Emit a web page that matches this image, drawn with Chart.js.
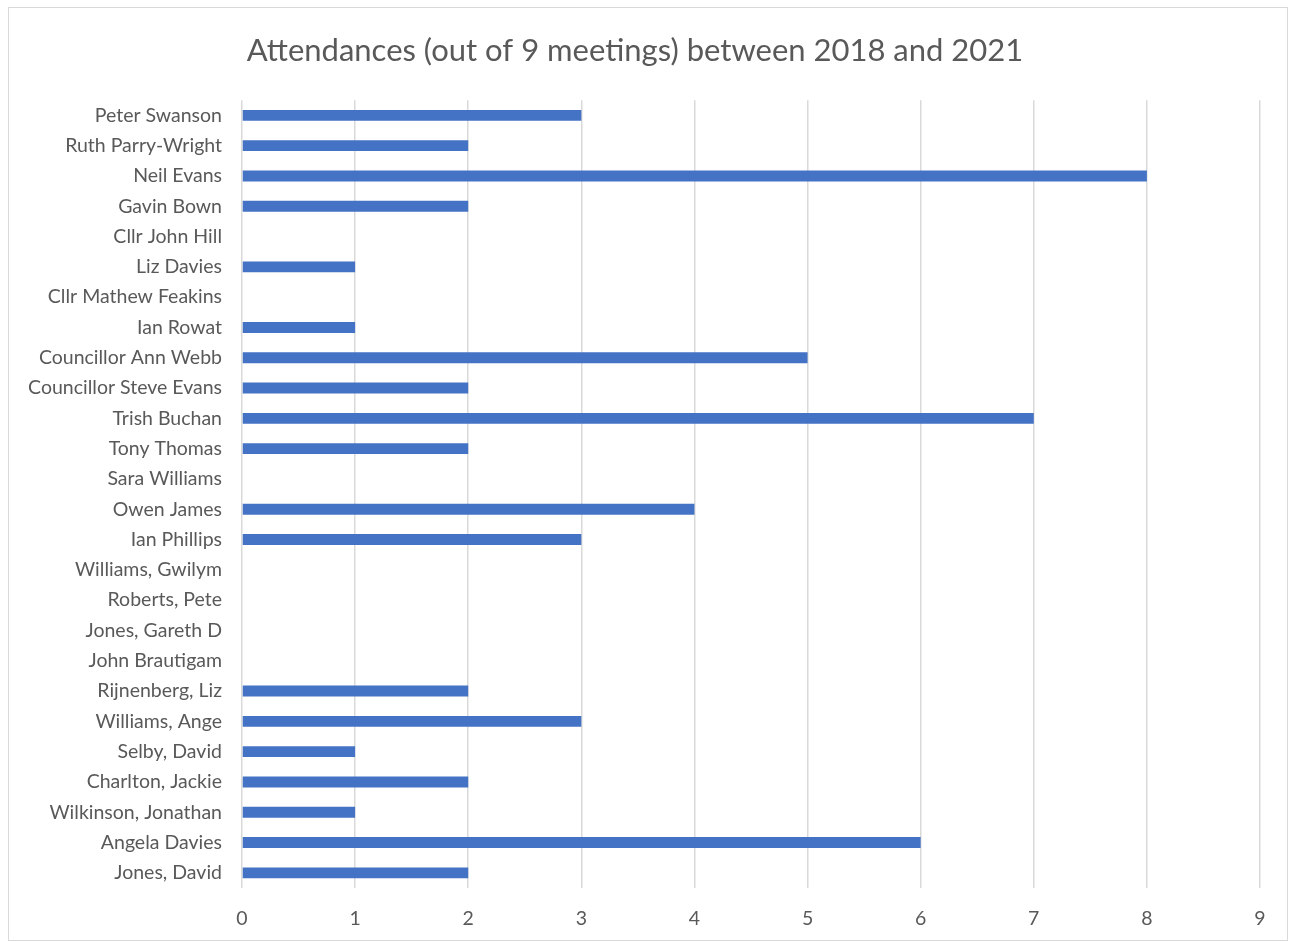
<!DOCTYPE html>
<html>
<head>
<meta charset="utf-8">
<script src="https://cdn.jsdelivr.net/npm/chart.js@4"></script>
<style>
  html, body { margin: 0; padding: 0; background: #fff; }
  #wrap { position: relative; width: 1296px; height: 942px; }
  #frame { position: absolute; left: 8px; top: 7px; width: 1280px; height: 934px; border: 1px solid #d9d9d9; box-sizing: border-box; pointer-events: none; }
  canvas { position: absolute; left: 0; top: 0; }
</style>
</head>
<body>
<div id="wrap">
  <canvas id="chart" width="1296" height="942"></canvas>
  <div id="frame"></div>
</div>
<script>
/* ---------- data ---------- */
const names = [
  'Peter Swanson', 'Ruth Parry-Wright', 'Neil Evans', 'Gavin Bown', 'Cllr John Hill',
  'Liz Davies', 'Cllr Mathew Feakins', 'Ian Rowat', 'Councillor Ann Webb',
  'Councillor Steve Evans', 'Trish Buchan', 'Tony Thomas', 'Sara Williams',
  'Owen James', 'Ian Phillips', 'Williams, Gwilym', 'Roberts, Pete', 'Jones, Gareth D',
  'John Brautigam', 'Rijnenberg, Liz', 'Williams, Ange', 'Selby, David',
  'Charlton, Jackie', 'Wilkinson, Jonathan', 'Angela Davies', 'Jones, David'
];
const attendances = [3, 2, 8, 2, 0, 1, 0, 1, 5, 2, 7, 2, 0, 4, 3, 0, 0, 0, 0, 2, 3, 1, 2, 1, 6, 2];
const xTicks = [0, 1, 2, 3, 4, 5, 6, 7, 8, 9];

const titleText = 'Attendances (out of 9 meetings) between 2018 and 2021';
const fontFamily = 'Lato, "Open Sans", sans-serif';
const textGrey = '#595959';

/* ---------- chart ---------- */
const ctx = document.getElementById('chart').getContext('2d');
new Chart(ctx, {
  type: 'bar',
  data: {
    labels: names,
    datasets: [{
      data: attendances,
      backgroundColor: '#4472C4',
      borderWidth: 0,
      barPercentage: 0.36,
      categoryPercentage: 1
    }]
  },
  options: {
    indexAxis: 'y',
    responsive: false,
    animation: false,
    devicePixelRatio: 1,
    layout: { padding: { left: 10, right: 36, top: 0, bottom: 0 } },
    plugins: {
      legend: { display: false },
      tooltip: { enabled: false },
      title: {
        display: true,
        text: titleText,
        color: textGrey,
        font: { family: fontFamily, size: 31, weight: 'normal' },
        padding: { top: 32, bottom: 31 }
      }
    },
    scales: {
      x: {
        min: 0,
        max: 9,
        afterBuildTicks: axis => { axis.ticks = xTicks.map(v => ({ value: v })); },
        grid: { color: '#d9d9d9', lineWidth: 1.5, drawTicks: false },
        border: { display: false },
        ticks: { color: textGrey, font: { family: fontFamily, size: 19.5 }, padding: 19 },
        afterFit: s => { s.height = 54; }
      },
      y: {
        grid: { display: false, drawTicks: false },
        border: { display: false },
        ticks: { color: textGrey, font: { family: fontFamily, size: 19.5 }, padding: 20, autoSkip: false },
        afterFit: s => { s.width = 232; }
      }
    }
  }
});
</script>
</body>
</html>
